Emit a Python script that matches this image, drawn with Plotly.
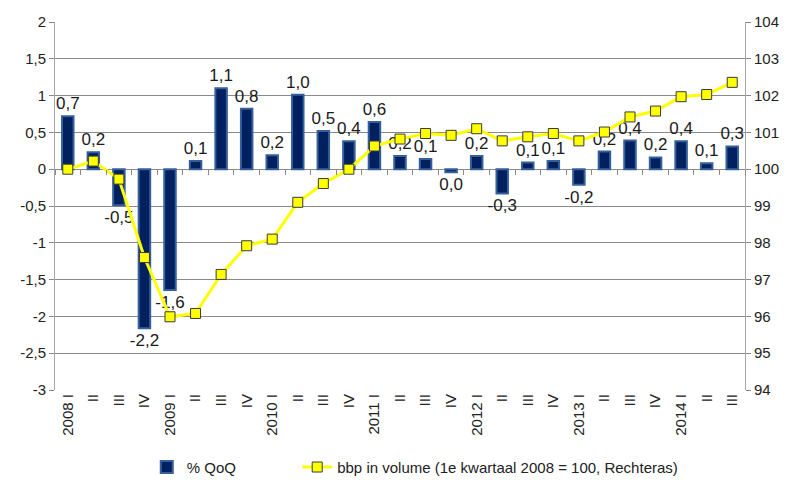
import plotly.graph_objects as go

# ---- data ----
categories = ["2008 I", "2008 II", "2008 III", "2008 IV",
              "2009 I", "2009 II", "2009 III", "2009 IV",
              "2010 I", "2010 II", "2010 III", "2010 IV",
              "2011 I", "2011 II", "2011 III", "2011 IV",
              "2012 I", "2012 II", "2012 III", "2012 IV",
              "2013 I", "2013 II", "2013 III", "2013 IV",
              "2014 I", "2014 II", "2014 III"]
tick_labels = ["2008 I", "II", "III", "IV",
               "2009 I", "II", "III", "IV",
               "2010 I", "II", "III", "IV",
               "2011 I", "II", "III", "IV",
               "2012 I", "II", "III", "IV",
               "2013 I", "II", "III", "IV",
               "2014 I", "II", "III"]
qoq = [0.72, 0.23, -0.49, -2.16,
       -1.64, 0.11, 1.10, 0.82,
       0.19, 1.01, 0.52, 0.38,
       0.64, 0.18, 0.14, -0.04,
       0.18, -0.33, 0.09, 0.11,
       -0.21, 0.24, 0.39, 0.16,
       0.38, 0.08, 0.31]
bbp = [100.0, 100.22, 99.73, 97.6,
       95.99, 96.08, 97.14, 97.92,
       98.1, 99.1, 99.61, 100.0,
       100.63, 100.82, 100.97, 100.92,
       101.1, 100.77, 100.88, 100.97,
       100.77, 101.01, 101.42, 101.58,
       101.97, 102.03, 102.36]
left_ticks = [2, 1.5, 1, 0.5, 0, -0.5, -1, -1.5, -2, -2.5, -3]
left_tick_labels = ["2", "1,5", "1", "0,5", "0", "-0,5", "-1", "-1,5", "-2", "-2,5", "-3"]
right_ticks = [94, 95, 96, 97, 98, 99, 100, 101, 102, 103, 104]
series_names = ["% QoQ", "bbp in volume (1e kwartaal 2008 = 100, Rechteras)"]


def fmt(v):
    r = round(v, 1)
    if r == 0:
        return "0,0"
    return f"{r:.1f}".replace(".", ",")


bar_text = [fmt(v) for v in qoq]

FONT = "Liberation Sans, Arial, sans-serif"
GRID = "#8a8a8a"
TXT = "#222222"

fig = go.Figure()
fig.add_trace(go.Bar(
    x=categories, y=qoq, name=series_names[0],
    width=0.45,
    marker=dict(color="#002060", line=dict(color="#36609A", width=2)),
    text=bar_text, textposition="outside", cliponaxis=False,
    constraintext="none",
    textfont=dict(family=FONT, size=17, color="#1a1a1a"),
    legend="legend",
))
fig.add_trace(go.Scatter(
    x=categories, y=bbp, name=series_names[1], yaxis="y2",
    mode="lines+markers",
    line=dict(color="#FFFF00", width=3),
    marker=dict(symbol="square", size=10, color="#FFFF00",
                line=dict(color="#3a3a3a", width=1)),
    cliponaxis=False,
    legend="legend2",
))
# invisible helper trace for the boundary ticks on the zero line
fig.add_trace(go.Scatter(
    x=categories, y=[None] * len(categories), xaxis="x2",
    showlegend=False, hoverinfo="skip", mode="lines",
))

fig.update_layout(
    width=790, height=487,
    margin=dict(l=55, r=45, t=22, b=97, autoexpand=False),
    paper_bgcolor="white", plot_bgcolor="white",
    font=dict(family=FONT, size=14, color=TXT),
    barmode="overlay",
    xaxis=dict(
        type="category", categoryorder="array", categoryarray=categories,
        range=[-0.5, len(categories) - 0.5],
        tickvals=categories, ticktext=tick_labels, tickangle=-90,
        ticks="", showgrid=False, showline=False, zeroline=False,
        automargin=False,
        tickfont=dict(family=FONT, size=15, color=TXT),
    ),
    xaxis2=dict(
        type="category", categoryorder="array", categoryarray=categories,
        range=[-0.5, len(categories) - 0.5],
        overlaying="x", anchor="free", position=0.6,
        ticks="outside", tickson="boundaries", ticklen=5, tickcolor=GRID,
        showticklabels=False, showgrid=False, showline=False, zeroline=False,
        automargin=False,
    ),
    yaxis=dict(
        range=[-3, 2], tickvals=left_ticks, ticktext=left_tick_labels,
        showgrid=True, gridcolor=GRID, gridwidth=1,
        showline=True, linecolor="#a6a6a6", linewidth=1,
        ticks="outside", ticklen=5, tickcolor=GRID,
        zeroline=False, automargin=False,
        tickfont=dict(family=FONT, size=15, color=TXT),
    ),
    yaxis2=dict(
        range=[94, 104], tickvals=right_ticks, overlaying="y", side="right",
        showgrid=False, showline=True, linecolor="#a6a6a6", linewidth=1,
        ticks="outside", ticklen=5, tickcolor=GRID, zeroline=False,
        automargin=False,
        tickfont=dict(family=FONT, size=15, color=TXT),
    ),
    legend=dict(
        orientation="h", x=0.133, xanchor="left", y=-0.21, yanchor="middle",
        font=dict(family=FONT, size=15, color=TXT), bgcolor="rgba(0,0,0,0)",
    ),
    legend2=dict(
        orientation="h", x=0.351, xanchor="left", y=-0.21, yanchor="middle",
        font=dict(family=FONT, size=15, color=TXT), bgcolor="rgba(0,0,0,0)",
    ),
    showlegend=True,
)

fig.write_html(
    "out.html",
    config={"displayModeBar": False},
    post_script="document.body.style.margin='0';document.body.style.overflow='hidden';",
)
